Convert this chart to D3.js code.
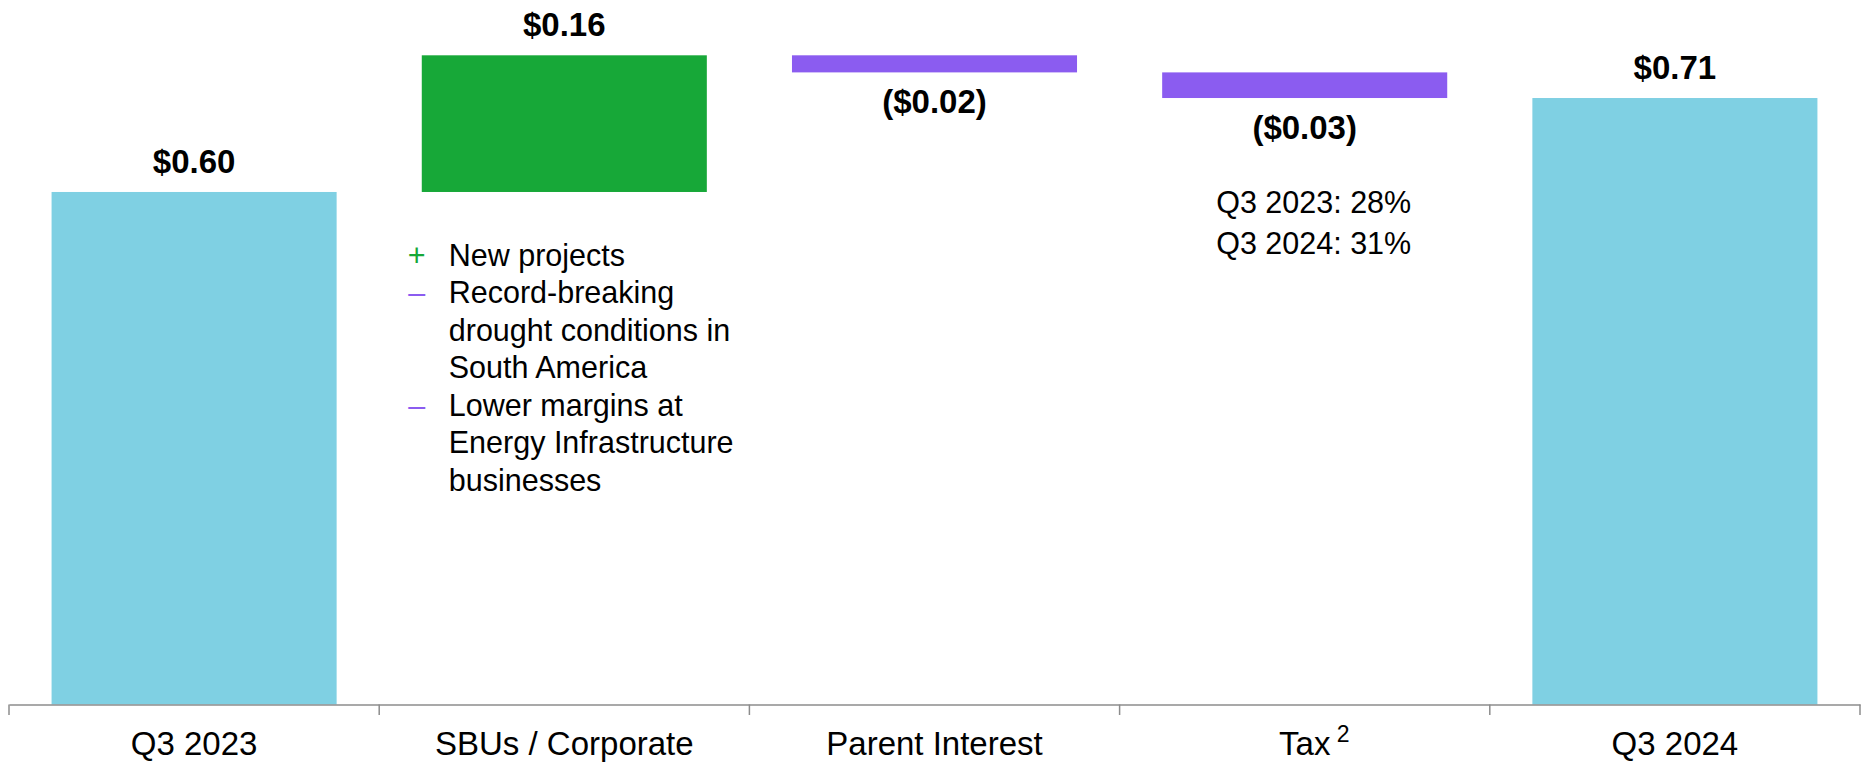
<!DOCTYPE html>
<html>
<head>
<meta charset="utf-8">
<script src="https://cdn.jsdelivr.net/npm/d3@7"></script>
<style>
  html, body { margin: 0; padding: 0; background: #fff; }
  svg { display: block; font-family: "Liberation Sans", Arial, sans-serif; }
</style>
</head>
<body>
<div id="chart"></div>
<script>
// waterfall data
var categories = ["Q3 2023", "SBUs / Corporate", "Parent Interest", "Tax", "Q3 2024"];
var values     = [0.60, 0.16, -0.02, -0.03, 0.71];
var kinds      = ["total", "up", "down", "down", "total"];
var valueLabels = ["$0.60", "$0.16", "($0.02)", "($0.03)", "$0.71"];

// notes under the SBU bar and the tax bar
var sbuSigns = ["+", "\u2013", "\u2013"];
var sbuNotes = [["New projects"],
                ["Record-breaking", "drought conditions in", "South America"],
                ["Lower margins at", "Energy Infrastructure", "businesses"]];
var taxNotes = ["Q3 2023: 28%", "Q3 2024: 31%"];

var width  = 1864,
    height = 763;

var colors = { total: "#7fd0e3", up: "#17a838", down: "#8b5cf0" };

var svg = d3.select("#chart")
    .append("svg")
    .attr("width", width)
    .attr("height", height);

var x = d3.scaleBand()
    .domain(categories)
    .range([9, 1860])
    .paddingInner(0.23)
    .paddingOuter(0.115);

var y = d3.scaleLinear()
    .domain([0, 0.8])
    .range([704.5, 704.5 - 0.8 * 854.2]);

// running totals for the floating bars
var running = 0;
var bars = categories.map(function (c, i) {
    var start, end;
    if (kinds[i] === "total") {
        start = 0; end = values[i]; running = values[i];
    } else {
        start = running; end = running + values[i]; running = end;
    }
    return { cat: c, start: start, end: end, kind: kinds[i], label: valueLabels[i] };
});

svg.selectAll(".bar")
    .data(bars)
    .enter()
    .append("rect")
    .attr("class", "bar")
    .attr("x", function (d) { return x(d.cat); })
    .attr("width", x.bandwidth())
    .attr("y", function (d) { return y(Math.max(d.start, d.end)); })
    .attr("height", function (d) { return Math.abs(y(d.start) - y(d.end)); })
    .attr("fill", function (d) { return colors[d.kind]; });

// value labels: above for totals / increases, below for decreases
svg.selectAll(".val")
    .data(bars)
    .enter()
    .append("text")
    .attr("class", "val")
    .attr("text-anchor", "middle")
    .attr("font-size", "33px")
    .attr("font-weight", "bold")
    .attr("fill", "#000")
    .attr("x", function (d) { return x(d.cat) + x.bandwidth() / 2; })
    .attr("y", function (d) {
        if (d.kind === "down") return y(Math.min(d.start, d.end)) + 41;
        return y(Math.max(d.start, d.end)) - 19;
    })
    .text(function (d) { return d.label; });

// x axis
var axis = svg.append("g")
    .attr("transform", "translate(0," + y(0) + ")")
    .call(d3.axisBottom(x).tickSize(0).tickSizeOuter(0));

axis.select(".domain").attr("stroke", "#8c8c8c").attr("stroke-width", 1.5);
axis.selectAll(".tick text")
    .attr("dy", null)
    .attr("y", 50.5)
    .attr("font-size", "33px")
    .attr("font-family", "Liberation Sans, Arial, sans-serif")
    .attr("fill", "#000");

// tick marks sit on the category boundaries
var bounds = categories.map(function (c) { return x(c) - x.step() * x.paddingInner() / 2; });
bounds.push(x(categories[categories.length - 1]) + x.bandwidth() + x.step() * x.paddingInner() / 2);
axis.selectAll(".bound")
    .data(bounds)
    .enter()
    .append("line")
    .attr("class", "bound")
    .attr("x1", function (d) { return d; })
    .attr("x2", function (d) { return d; })
    .attr("y1", 0)
    .attr("y2", 10.5)
    .attr("stroke", "#8c8c8c")
    .attr("stroke-width", 1.5);

// superscript on Tax
var taxTick = axis.selectAll(".tick").filter(function (d) { return d === "Tax"; });
taxTick.append("text")
    .attr("x", 32)
    .attr("y", 37.5)
    .attr("font-size", "23px")
    .attr("font-family", "Liberation Sans, Arial, sans-serif")
    .attr("fill", "#000")
    .attr("text-anchor", "start")
    .text("2");

// SBU notes
var sbuLeft = x("SBUs / Corporate");
var noteY   = y(0.60) + 74;
var lineH   = 37.5;
var row     = 0;
var notes   = svg.append("g").attr("font-size", "30.5px");

sbuNotes.forEach(function (lines, i) {
    notes.append("text")
        .attr("x", sbuLeft - 5)
        .attr("y", noteY + row * lineH)
        .attr("text-anchor", "middle")
        .attr("fill", sbuSigns[i] === "+" ? colors.up : colors.down)
        .text(sbuSigns[i]);
    lines.forEach(function (l) {
        notes.append("text")
            .attr("x", sbuLeft + 27)
            .attr("y", noteY + row * lineH)
            .attr("fill", "#000")
            .text(l);
        row++;
    });
});

// tax rates
var taxMid = x("Tax") + x.bandwidth() / 2 + 9;
svg.append("g")
    .attr("font-size", "30.5px")
    .selectAll("text")
    .data(taxNotes)
    .enter()
    .append("text")
    .attr("text-anchor", "middle")
    .attr("x", taxMid)
    .attr("y", function (d, i) { return y(0.71) + 115 + i * 41; })
    .attr("fill", "#000")
    .text(function (d) { return d; });
</script>
</body>
</html>
